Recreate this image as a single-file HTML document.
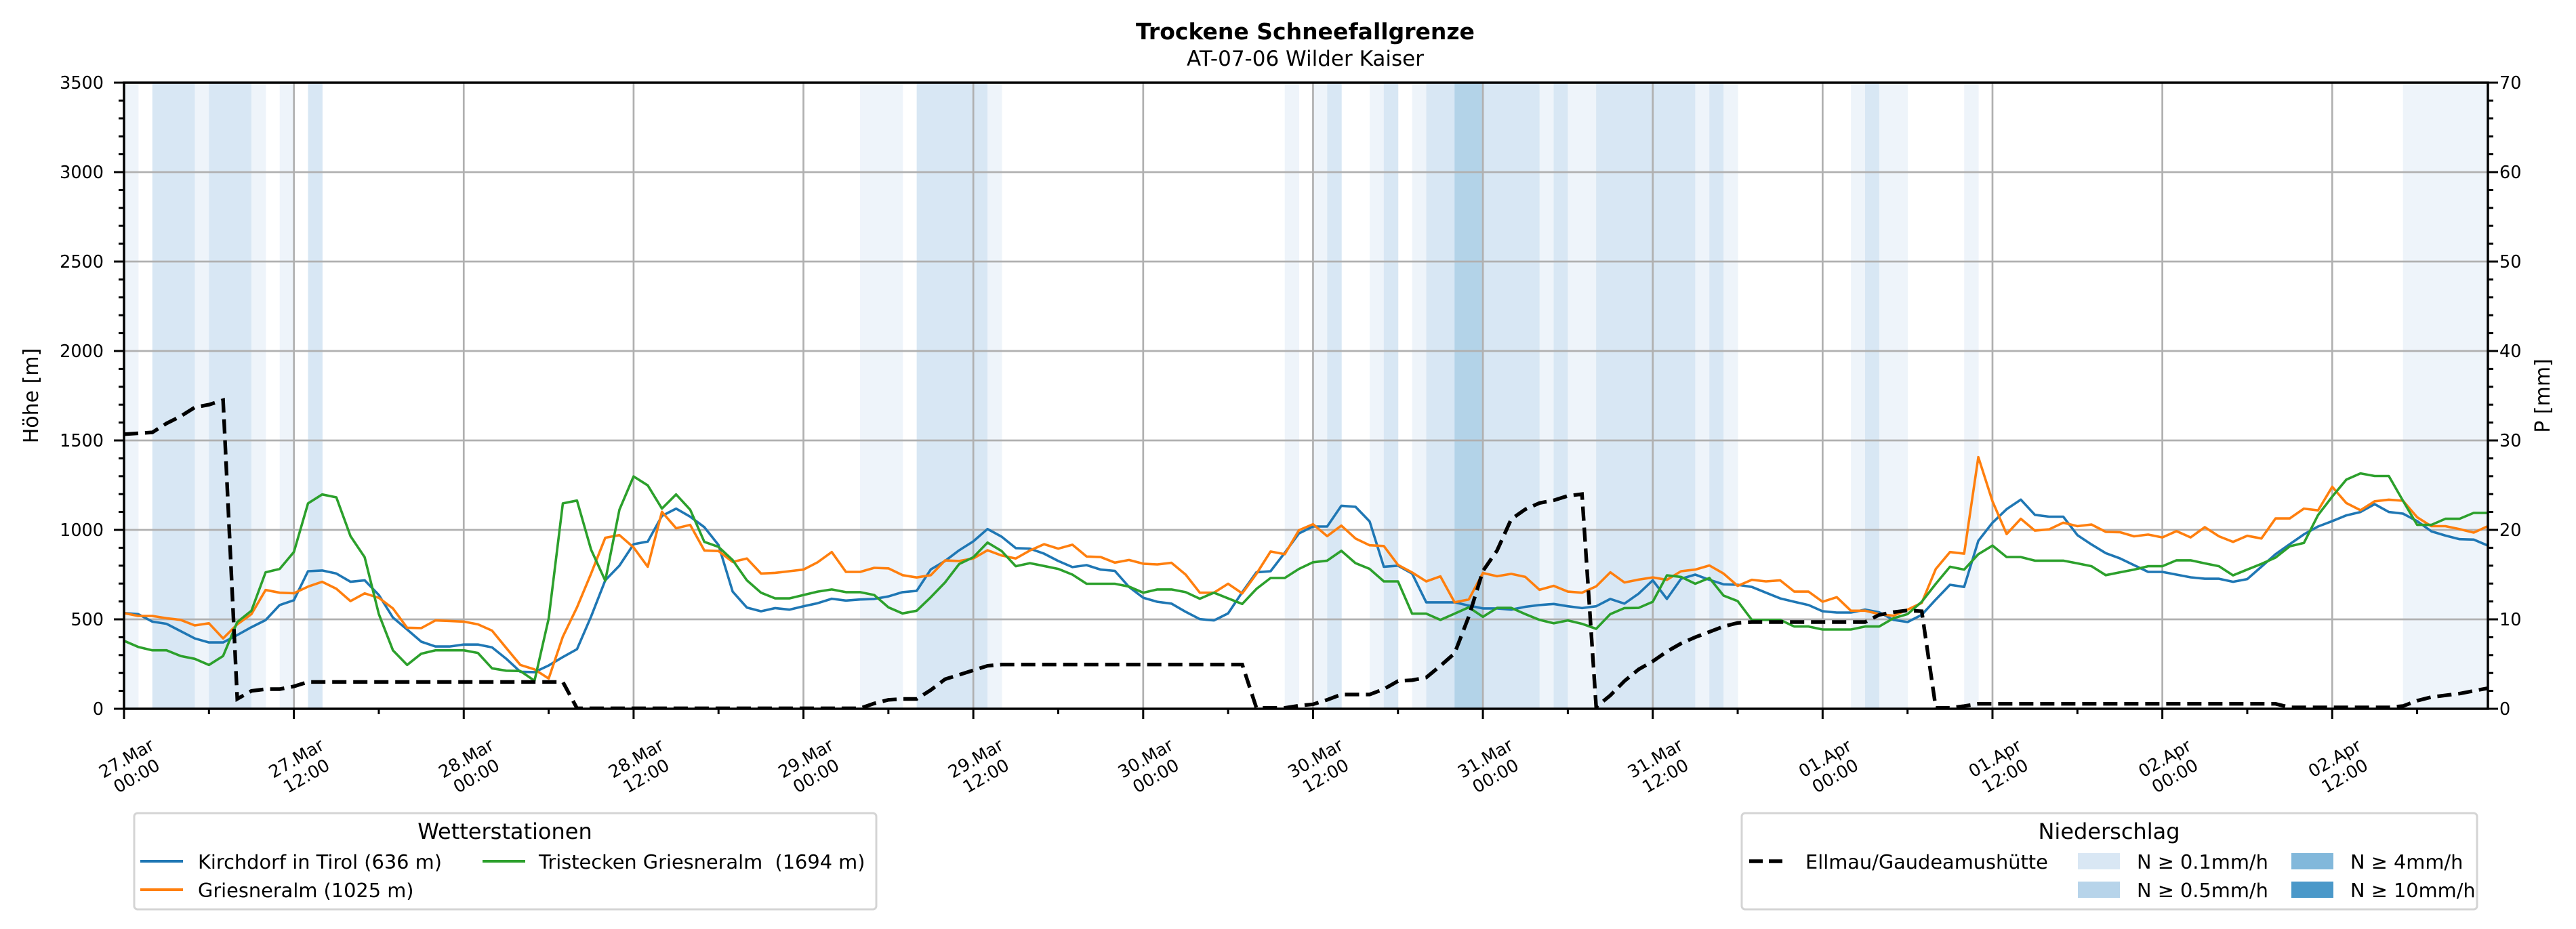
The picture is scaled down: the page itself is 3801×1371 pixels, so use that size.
<!DOCTYPE html>
<html><head><meta charset="utf-8">
<style>
html,body{margin:0;padding:0;background:#fff;}
svg{display:block;font-family:"DejaVu Sans","Liberation Sans",sans-serif;}
</style></head>
<body>
<svg id="chart" width="3801" height="1371" viewBox="0 0 3801 1371" xmlns="http://www.w3.org/2000/svg">
  <rect x="0" y="0" width="3801" height="1371" fill="#fff"/>
  <defs><clipPath id="plotclip"><rect x="183" y="122" width="3488" height="924"/></clipPath></defs>
  <text x="1926" y="58" text-anchor="middle" font-size="33" font-weight="bold">Trockene Schneefallgrenze</text>
  <text x="1926" y="97" text-anchor="middle" font-size="31">AT-07-06 Wilder Kaiser</text>
  <g id="bands" clip-path="url(#plotclip)"></g>
  <g id="grid"></g>
  <g id="series" clip-path="url(#plotclip)"></g>
  <g id="axes"></g>
  <text x="0" y="0" transform="translate(56,584) rotate(-90)" text-anchor="middle" font-size="30">Höhe [m]</text>
  <text x="0" y="0" transform="translate(3762,584) rotate(-90)" text-anchor="middle" font-size="30">P [mm]</text>

  <g>
    <rect x="198" y="1200" width="1095" height="142" rx="5" fill="#fff" stroke="#d4d4d4" stroke-width="3"/>
    <text x="745" y="1238" text-anchor="middle" font-size="32">Wetterstationen</text>
    <g><line x1="207" y1="1271" x2="270" y2="1271" stroke="#1f77b4" stroke-width="4"/><text x="292" y="1282" font-size="28.8">Kirchdorf in Tirol (636 m)</text></g>
    <g><line x1="207" y1="1313" x2="270" y2="1313" stroke="#ff7f0e" stroke-width="4"/><text x="292" y="1324" font-size="28.8">Griesneralm (1025 m)</text></g>
    <g><line x1="712" y1="1271" x2="775" y2="1271" stroke="#2ca02c" stroke-width="4"/><text x="795" y="1282" font-size="28.8" xml:space="preserve">Tristecken Griesneralm  (1694 m)</text></g>
  </g>
  <g>
    <rect x="2570" y="1200" width="1085" height="142" rx="5" fill="#fff" stroke="#d4d4d4" stroke-width="3"/>
    <text x="3112" y="1238" text-anchor="middle" font-size="32">Niederschlag</text>
    <g><line x1="2581" y1="1271" x2="2637" y2="1271" stroke="#000" stroke-width="5.4" stroke-dasharray="20 9"/><text x="2664" y="1282" font-size="28.8">Ellmau/Gaudeamushütte</text></g>
    <g><rect x="3066" y="1259" width="62" height="24" fill="#d9e7f4"/><text x="3153" y="1282" font-size="28.8">N ≥ 0.1mm/h</text></g>
    <g><rect x="3066" y="1301" width="62" height="24" fill="#b7d4ea"/><text x="3153" y="1324" font-size="28.8">N ≥ 0.5mm/h</text></g>
    <g><rect x="3381" y="1259" width="62" height="24" fill="#82b8db"/><text x="3468" y="1282" font-size="28.8">N ≥ 4mm/h</text></g>
    <g><rect x="3381" y="1301" width="62" height="24" fill="#4a98c9"/><text x="3468" y="1324" font-size="28.8">N ≥ 10mm/h</text></g>
  </g>
</svg>
<script>
// ---- data (hourly, starting 27.Mar 00:00) ----
const hourTickLabels = ["27.Mar|00:00","27.Mar|12:00","28.Mar|00:00","28.Mar|12:00","29.Mar|00:00","29.Mar|12:00","30.Mar|00:00","30.Mar|12:00","31.Mar|00:00","31.Mar|12:00","01.Apr|00:00","01.Apr|12:00","02.Apr|00:00","02.Apr|12:00"];
const yTicks = [0,500,1000,1500,2000,2500,3000,3500];
const y2Ticks = [0,10,20,30,40,50,60,70];
const kirchdorf = [535,529,487,475,434,393,371,371,412,456,496,580,607,769,773,756,710,718,636,510,443,375,348,348,359,359,343,280,207,205,242,289,333,516,718,800,920,935,1078,1119,1074,1015,915,
655,566,545,563,554,573,590,615,605,611,614,628,652,659,779,826,886,936,1005,962,898,895,867,826,792,803,778,771,681,621,598,588,542,501,494,533,652,763,769,872,980,
1019,1019,1135,1129,1047,794,800,756,595,595,595,577,561,561,554,570,580,586,573,563,573,614,588,643,718,614,727,750,721,696,693,681,649,617,598,580,545,538,538,554,539,
497,485,525,611,693,681,939,1040,1116,1169,1084,1074,1074,971,918,870,841,803,765,765,750,735,727,727,710,725,794,864,920,975,1019,1049,1081,1100,1144,1100,1091,1049,992,968,948,946,912];
const griesneralm = [535,519,519,506,497,466,478,393,472,529,664,649,646,683,710,671,602,645,620,561,453,451,494,491,487,472,437,340,245,220,169,403,567,756,956,971,902,794,1101,1009,1028,885,882,
821,840,756,760,769,778,819,876,765,765,788,785,747,734,747,829,826,840,886,857,840,885,920,895,917,851,848,817,832,811,807,816,750,649,649,699,645,754,879,864,998,
1032,965,1024,952,914,910,804,762,712,740,595,611,759,741,754,737,665,687,655,649,684,763,706,722,734,721,769,778,801,756,687,721,712,718,655,655,598,624,548,548,529,
520,554,592,782,876,867,1407,1160,977,1062,996,1003,1040,1021,1030,989,987,964,974,958,993,958,1015,964,933,967,952,1064,1064,1119,1109,1241,1150,1110,1160,1169,1163,1071,1021,1021,1004,985,1021];
const tristecken = [380,346,327,327,295,279,245,295,485,548,763,782,876,1148,1198,1182,965,847,529,327,245,308,327,327,327,312,226,213,211,157,504,1148,1164,889,716,1113,1299,1249,1119,1198,1113,933,905,
831,718,649,617,617,636,655,667,652,652,636,567,533,548,624,706,809,847,929,882,797,814,798,782,750,699,699,699,683,649,667,667,652,615,649,617,586,670,731,731,782,
819,828,883,814,782,712,712,532,532,497,532,567,514,564,564,529,497,478,494,475,447,529,563,564,598,746,737,699,731,633,602,497,497,497,460,460,443,443,443,460,460,
506,529,598,699,794,778,864,912,848,848,828,828,828,813,797,747,763,778,797,797,830,830,813,797,746,778,810,845,908,927,1083,1186,1281,1316,1301,1301,1163,1028,1028,1062,1062,1095,1095];
const precipEllmau = [30.7,30.8,30.9,31.9,32.7,33.7,34.0,34.5,1.1,2.0,2.2,2.2,2.5,3.0,
3.0,3.0,3.0,3.0,3.0,3.0,3.0,3.0,3.0,3.0,3.0,3.0,3.0,3.0,3.0,3.0,3.0,3.0,
0.05,0.05,0.05,0.05,0.05,0.05,0.05,0.05,0.05,0.05,0.05,0.05,0.05,0.05,0.05,0.05,0.05,0.05,0.05,0.05,0.05,
0.6,1.0,1.1,1.1,2.1,3.3,3.8,4.3,4.8,
4.95,4.95,4.95,4.95,4.95,4.95,4.95,4.95,4.95,4.95,4.95,4.95,4.95,4.95,4.95,4.95,4.95,4.95,
0.1,0.1,0.1,0.35,0.5,1.0,1.6,1.6,1.6,2.2,3.1,3.2,3.5,4.8,6.2,10.3,15.4,17.7,21.2,22.3,23.0,23.3,23.8,24.0,
0.2,1.5,3.1,4.4,5.3,6.4,7.3,8.0,8.6,9.2,9.6,9.7,9.7,9.7,9.7,9.7,9.7,9.7,9.7,9.7,10.5,10.8,11.0,10.9,
0.1,0.1,0.3,0.55,0.55,0.55,0.55,0.55,0.55,0.55,0.55,0.55,0.55,0.55,0.55,0.55,0.55,0.55,0.55,0.55,0.55,0.55,0.55,0.55,0.55,
0.15,0.15,0.15,0.15,0.15,0.15,0.15,0.15,0.3,0.9,1.3,1.5,1.7,2.0,2.3];
// hourly precipitation intensity class (0 none, 1 trace, 2 >=0.1, 3 >=0.5)
const precipClass = [1,0,2,2,2,1,2,2,2,1,0,1,0,2,
0,0,0,0,0,0,0,0,0,0,0,0,0,0,0,0,0,0,0,0,0,0,0,0,0,0,0,0,0,0,0,0,0,0,0,0,0,0,
1,1,1,0,2,2,2,2,2,1,
0,0,0,0,0,0,0,0,0,0,0,0,0,0,0,0,0,0,0,0,
1,0,1,2,0,0,1,2,0,1,2,2,3,3,2,2,2,2,1,2,1,1,2,2,2,2,2,2,2,1,2,1,
0,0,0,0,0,0,0,0,1,2,1,1,0,0,0,0,1,
0,0,0,0,0,0,0,0,0,0,0,0,0,0,0,0,0,0,0,0,0,0,0,0,0,0,0,0,0,0,
1,1,1,1,1,1,1];

// ---- scales ----
const X0=183, X1=3671, Y0=122, Y1=1046, HOURS=167, YMAX=3500, Y2MAX=70;
const xs = h => X0 + (X1-X0)*h/HOURS;
const ys = v => Y1 - (Y1-Y0)*v/YMAX;
const y2s = v => Y1 - (Y1-Y0)*v/Y2MAX;
const NS="http://www.w3.org/2000/svg";
function mk(tag, attrs, parent){const e=document.createElementNS(NS,tag);for(const k in attrs)e.setAttribute(k,attrs[k]);parent.appendChild(e);return e;}

// bands
const bandColors=[null,"#eef4fa","#d8e7f4","#b3d3e8"];
const bands=document.getElementById('bands');
precipClass.forEach((c,h)=>{
  if(!c) return;
  const r=mk('rect',{x:xs(h),y:Y0,width:xs(h+1)-xs(h)+0.5,height:Y1-Y0,fill:bandColors[c]},bands);
  
  
});

// grid
const grid=document.getElementById('grid');
yTicks.forEach(v=>{
  const l=mk('line',{x1:X0,x2:X1,y1:ys(v),y2:ys(v),stroke:"#b0b0b0","stroke-width":2.7},grid);
  
  
});
hourTickLabels.forEach((t,i)=>{
  const x=xs(i*12);
  const l=mk('line',{x1:x,x2:x,y1:Y0,y2:Y1,stroke:"#b0b0b0","stroke-width":2.7},grid);
  
  
});

// series
const series=document.getElementById('series');
function path(arr, scale){return arr.map((v,h)=>(h?'L':'M')+xs(h).toFixed(1)+','+scale(v).toFixed(1)).join('');}
[[kirchdorf,"#1f77b4","line-kirchdorf"],[griesneralm,"#ff7f0e","line-griesneralm"],[tristecken,"#2ca02c","line-tristecken"]].forEach(([arr,col,name])=>{
  const p=mk('path',{d:path(arr,ys),fill:"none",stroke:col,"stroke-width":3.6,"stroke-linejoin":"round"},series);
  
  
});
const pd=mk('path',{d:path(precipEllmau,y2s),fill:"none",stroke:"#000","stroke-width":5.4,"stroke-dasharray":"21 10"},series);



// axes
const axes=document.getElementById('axes');
mk('rect',{x:X0,y:Y0,width:X1-X0,height:Y1-Y0,fill:"none",stroke:"#000","stroke-width":3.5},axes);
for(let v=0;v<=YMAX;v+=100){
  const major=v%500===0;
  mk('line',{x1:X0-(major?15:8),x2:X0,y1:ys(v),y2:ys(v),stroke:"#000","stroke-width":3},axes);
}
yTicks.forEach(v=>{
  const t=mk('text',{x:153,y:ys(v)+9,"text-anchor":"end","font-size":25.5},axes);
  t.textContent=v;
  
  
});
for(let v=0;v<=Y2MAX;v+=2){
  const major=v%10===0;
  mk('line',{x1:X1,x2:X1+(major?15:8),y1:y2s(v),y2:y2s(v),stroke:"#000","stroke-width":3},axes);
}
y2Ticks.forEach(v=>{
  const t=mk('text',{x:3688,y:y2s(v)+9,"text-anchor":"start","font-size":25.5},axes);
  t.textContent=v;
  
  
});
for(let h=0;h<=HOURS;h+=6){
  const major=h%12===0;
  mk('line',{x1:xs(h),x2:xs(h),y1:Y1,y2:Y1+(major?15:8),stroke:"#000","stroke-width":3},axes);
}
hourTickLabels.forEach((lab,i)=>{
  const cx=xs(i*12)+11, cy=1132;
  const parts=lab.split('|');
  const t=mk('text',{x:cx,y:cy,"text-anchor":"middle","font-size":25.5,transform:`rotate(-30 ${cx} ${cy})`},axes);
  
  
  const a=mk('tspan',{x:cx,y:cy-6},t); a.textContent=parts[0];
  const b=mk('tspan',{x:cx,y:cy+24},t); b.textContent=parts[1];
});
</script>
</body></html>
